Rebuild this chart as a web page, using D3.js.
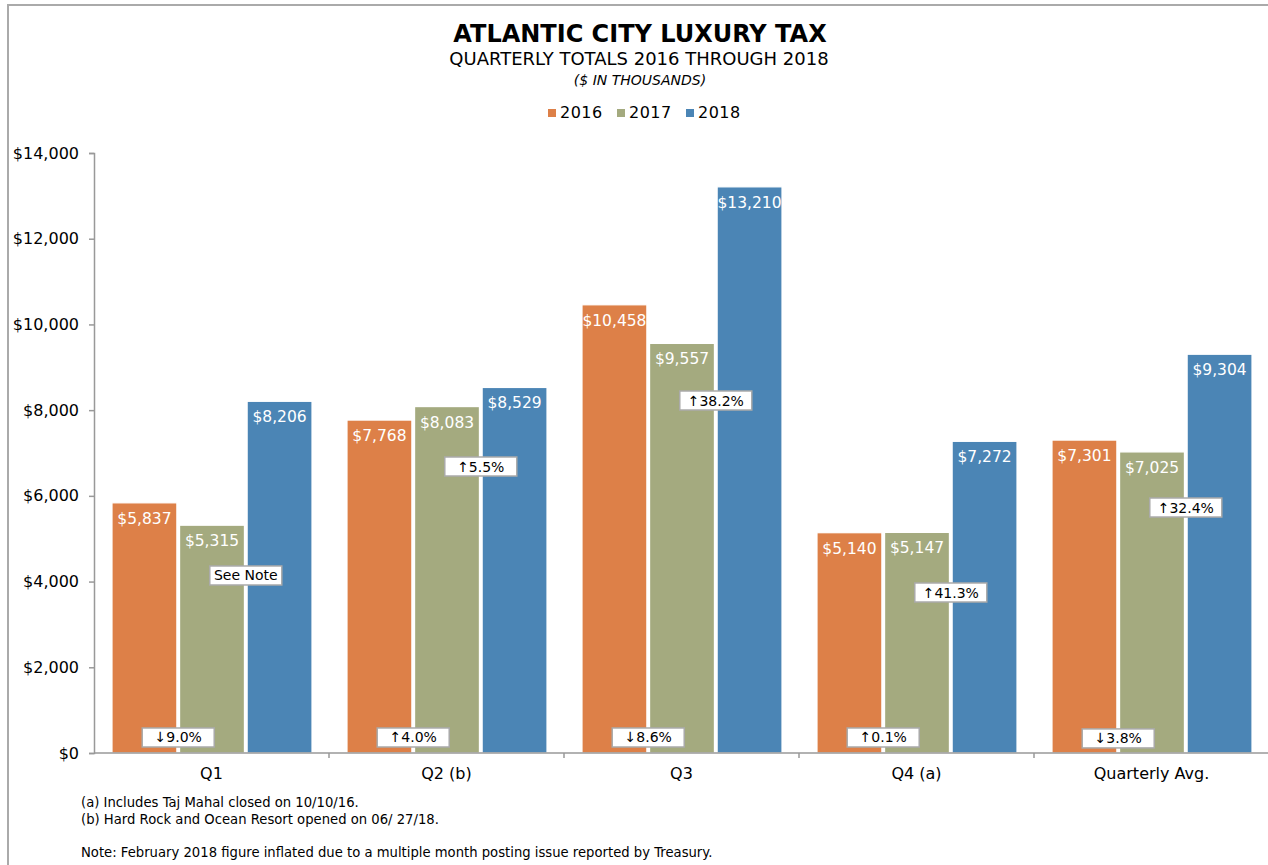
<!DOCTYPE html>
<html>
<head>
<meta charset="utf-8">
<script src="https://cdn.jsdelivr.net/npm/d3@7"></script>
<style>
  html, body { margin: 0; padding: 0; background: #fff; }
  svg { display: block; font-family: "DejaVu Sans", "Lucida Grande", sans-serif; }
</style>
</head>
<body>
<svg id="chart" width="1268" height="865"></svg>
<script>
// ---- Data ----
const categories = ["Q1", "Q2 (b)", "Q3", "Q4 (a)", "Quarterly Avg."];
const seriesNames = ["2016", "2017", "2018"];
const values2016 = [5837, 7768, 10458, 5140, 7301];
const values2017 = [5315, 8083, 9557, 5147, 7025];
const values2018 = [8206, 8529, 13210, 7272, 9304];
const change1617 = ["\u21939.0%", "\u21914.0%", "\u21938.6%", "\u21910.1%", "\u21933.8%"];
const change1718 = ["See Note", "\u21915.5%", "\u219138.2%", "\u219141.3%", "\u219132.4%"];
// vertical anchor (in $ thousands) of the change boxes, as placed in the source
const change1617At = [362, 362, 362, 362, 340];
const change1718At = [4142, 6685, 8225, 3745, 5728];
const yTicks = [0, 2000, 4000, 6000, 8000, 10000, 12000, 14000];
const footnotes = ["(a) Includes Taj Mahal closed on 10/10/16.", "(b) Hard Rock and Ocean Resort opened on 06/ 27/18."];
const noteText = "Note: February 2018 figure inflated due to a multiple month posting issue reported by Treasury.";

const seriesValues = [values2016, values2017, values2018];
const colors = ["#dd8048", "#a4aa7f", "#4b85b5"];

const svg = d3.select("#chart");

// frame
svg.append("path").attr("d", "M8,870 L8,5 L1275,5").attr("fill", "none")
  .attr("stroke", "#aaa").attr("stroke-width", 2);

const plotLeft = 94, plotRight = 1269, plotTop = 153, plotBottom = 753;

const x0 = d3.scaleBand().domain(categories).range([plotLeft, plotRight]).padding(0);
const x1 = d3.scaleBand().domain(seriesNames).range([18, x0.bandwidth() - 17]).paddingInner(0.04);
const y = d3.scaleLinear().domain([0, 14000]).range([plotBottom, plotTop]);

// titles
svg.append("text").attr("x", 640).attr("y", 42).attr("text-anchor", "middle")
  .attr("font-size", 24).attr("font-weight", "bold").attr("fill", "#000")
  .text("ATLANTIC CITY LUXURY TAX");
svg.append("text").attr("x", 639).attr("y", 65).attr("text-anchor", "middle")
  .attr("font-size", 18).attr("fill", "#000")
  .text("QUARTERLY TOTALS 2016 THROUGH 2018");
svg.append("text").attr("x", 640).attr("y", 85).attr("text-anchor", "middle")
  .attr("font-size", 14).attr("font-style", "italic").attr("fill", "#000")
  .text("($ IN THOUSANDS)");

// legend
const legendX = [548, 617, 686];
seriesNames.forEach((s, i) => {
  svg.append("rect").attr("x", legendX[i]).attr("y", 109).attr("width", 8).attr("height", 8).attr("fill", colors[i]);
  svg.append("text").attr("x", legendX[i] + 12).attr("y", 118).attr("font-size", 16)
    .attr("letter-spacing", 0.5).attr("fill", "#000").text(s);
});

// y axis
const yAxis = svg.append("g").attr("transform", `translate(${plotLeft},0)`)
  .call(d3.axisLeft(y).tickValues(yTicks).tickSize(5).tickPadding(10)
    .tickFormat(d => "$" + d3.format(",")(d)));
yAxis.select(".domain").attr("stroke", "#999").attr("stroke-width", 1.5);
yAxis.selectAll(".tick line").attr("stroke", "#999").attr("stroke-width", 1.5);
yAxis.selectAll("text").attr("font-size", 16).attr("fill", "#000")
  .attr("font-family", "DejaVu Sans, sans-serif");

// bars
const groups = svg.append("g").selectAll("g").data(categories).join("g")
  .attr("transform", d => `translate(${x0(d)},0)`);

seriesNames.forEach((s, si) => {
  groups.append("rect")
    .attr("x", x1(s))
    .attr("y", (d, i) => y(seriesValues[si][i]))
    .attr("width", x1.bandwidth())
    .attr("height", (d, i) => y(0) - y(seriesValues[si][i]))
    .attr("fill", colors[si])
    .attr("stroke", "#fff").attr("stroke-width", 1.2);
  groups.append("text")
    .attr("x", x1(s) + x1.bandwidth() / 2)
    .attr("y", (d, i) => y(seriesValues[si][i]) + 21)
    .attr("text-anchor", "middle").attr("font-size", 15.5).attr("fill", "#fff")
    .text((d, i) => "$" + d3.format(",")(seriesValues[si][i]));
});

// x axis
const xAxisG = svg.append("g").attr("transform", `translate(0,${plotBottom})`);
xAxisG.append("line").attr("x1", plotLeft).attr("x2", plotRight).attr("stroke", "#999").attr("stroke-width", 1.5);
xAxisG.selectAll("line.tk").data(categories.slice(1)).join("line").attr("class", "tk")
  .attr("x1", d => x0(d)).attr("x2", d => x0(d)).attr("y1", 0).attr("y2", 5)
  .attr("stroke", "#999").attr("stroke-width", 1.5);
xAxisG.selectAll("text").data(categories).join("text")
  .attr("x", d => x0(d) + x0.bandwidth() / 2).attr("y", 26)
  .attr("text-anchor", "middle").attr("font-size", 16).attr("fill", "#000").text(d => d);

// change boxes
function box(g, cx, cy, label) {
  g.append("rect").attr("x", cx - 36).attr("y", cy - 9.5).attr("width", 72).attr("height", 19)
    .attr("fill", "#fff").attr("stroke", "#aaa").attr("stroke-width", 1.5);
  g.append("text").attr("x", cx).attr("y", cy + 5).attr("text-anchor", "middle")
    .attr("font-size", 14).attr("fill", "#000").text(label);
}
const boxes = svg.append("g");
categories.forEach((c, i) => {
  const b1 = x0(c) + x1("2017") - (x1.step() - x1.bandwidth()) / 2;
  const b2 = x0(c) + x1("2018") - (x1.step() - x1.bandwidth()) / 2;
  box(boxes, b1, y(change1617At[i]), change1617[i]);
  box(boxes, b2, y(change1718At[i]), change1718[i]);
});

// footnotes
const fn = svg.append("g").attr("font-size", 13.2).attr("fill", "#000");
footnotes.forEach((t, i) => {
  fn.append("text").attr("x", 81).attr("y", 807 + i * 16.5).text(t);
});
fn.append("text").attr("x", 81).attr("y", 857).text(noteText);
</script>
</body>
</html>
